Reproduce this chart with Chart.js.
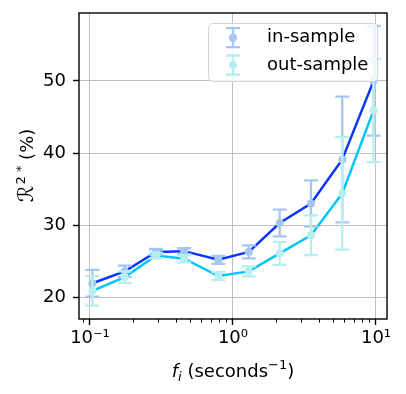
<!DOCTYPE html>
<html>
<head>
<meta charset="utf-8">
<script src="https://cdn.jsdelivr.net/npm/chart.js@4/dist/chart.umd.min.js"></script>
<style>
  html, body { margin: 0; background: #fff; }
</style>
</head>
<body>
<canvas id="chart" width="406" height="394"></canvas>
<script>
// ====== DATA ======
const freqs = [0.104, 0.175, 0.29, 0.456, 0.79, 1.29, 2.12, 3.51, 5.81, 9.62];
const inSample = [21.95, 23.6, 26.3, 26.4, 25.2, 26.3, 30.3, 33.0, 39.1, 50.0];
const inSampleErr = [1.85, 0.8, 0.4, 0.4, 0.55, 0.9, 1.85, 3.2, 8.7, 7.6];
const outSample = [20.9, 22.8, 25.8, 25.35, 22.95, 23.6, 26.1, 28.6, 34.4, 45.9];
const outSampleErr = [2.05, 0.8, 0.4, 0.5, 0.55, 0.7, 1.6, 2.75, 7.8, 7.15];
const seriesNames = ["in-sample", "out-sample"];
const xTickVals = [0.1, 1, 10];
const xTickLabels = ["10\u207B\u00B9", "10\u2070", "10\u00B9"];
const yTickVals = [20, 30, 40, 50];

const FONT = "'DejaVu Sans', sans-serif";
const colIn = "#0a36ff";
const colInLight = "#a6c6f2";
const colOut = "#00c6f8";
const colOutLight = "#b6efee";

const toPoints = (ys) => freqs.map((f, i) => ({ x: f, y: ys[i] }));

// error bars drawn just below the marker dataset they belong to
const errorBars = {
  id: "errorBars",
  beforeDatasetDraw(chart, args) {
    const ds = chart.data.datasets[args.index];
    if (!ds.errors) return;
    const { ctx, chartArea: a, scales } = chart;
    ctx.save();
    ctx.beginPath();
    ctx.rect(a.left, a.top, a.width, a.height);
    ctx.clip();
    ctx.strokeStyle = ds.pointBackgroundColor;
    ctx.lineWidth = 2.3;
    ds.data.forEach((p, i) => {
      const px = scales.x.getPixelForValue(p.x);
      const top = scales.y.getPixelForValue(p.y + ds.errors[i]);
      const bot = scales.y.getPixelForValue(p.y - ds.errors[i]);
      ctx.beginPath();
      ctx.moveTo(px, top); ctx.lineTo(px, bot);
      ctx.moveTo(px - 7, top); ctx.lineTo(px + 7, top);
      ctx.moveTo(px - 7, bot); ctx.lineTo(px + 7, bot);
      ctx.stroke();
    });
    ctx.restore();
  },
};

// frame, minor ticks, axis titles, legend
const decorations = {
  id: "decorations",
  afterDraw(chart) {
    const { ctx, chartArea: a, scales } = chart;
    ctx.save();
    // minor ticks on log axis
    ctx.strokeStyle = "#000";
    ctx.lineWidth = 1;
    for (let d = -2; d <= 1; d++) {
      for (let k = 2; k <= 9; k++) {
        const v = k * Math.pow(10, d);
        if (v < scales.x.min || v > scales.x.max) continue;
        const px = Math.round(scales.x.getPixelForValue(v)) + 0.5;
        ctx.beginPath();
        ctx.moveTo(px, a.bottom);
        ctx.lineTo(px, a.bottom + 3.5);
        ctx.stroke();
      }
    }
    // frame
    ctx.lineWidth = 1.4;
    ctx.strokeRect(a.left, a.top, a.right - a.left, a.bottom - a.top);

    // y title: R^{2*} (%)
    ctx.fillStyle = "#000";
    ctx.textBaseline = "alphabetic";
    ctx.translate(33, (a.top + a.bottom) / 2);
    ctx.rotate(-Math.PI / 2);
    const big = "18px " + FONT, small = "13px " + FONT, cal = "21px " + FONT;
    ctx.font = cal;
    const wR = ctx.measureText("\u211B").width;
    ctx.font = big;
    const wP = ctx.measureText(" (%)").width;
    ctx.font = small;
    const wS = ctx.measureText("2 *").width;
    let x0 = -(wR + wS + wP) / 2;
    ctx.font = cal;
    ctx.fillText("\u211B", x0, 0);
    ctx.font = small;
    ctx.fillText("2 *", x0 + wR + 1, -8);
    ctx.font = big;
    ctx.fillText(" (%)", x0 + wR + wS + 1, 0);
    ctx.setTransform(1, 0, 0, 1, 0, 0);

    // x title: f_i (seconds^{-1})
    const it = "italic 18px " + FONT, itSmall = "italic 13px " + FONT;
    ctx.font = it; const wf = ctx.measureText("f").width;
    ctx.font = itSmall; const wi = ctx.measureText("i").width;
    ctx.font = big; const ws = ctx.measureText(" (seconds").width;
    ctx.font = small; const wm = ctx.measureText("\u22121").width;
    ctx.font = big; const wc = ctx.measureText(")").width;
    let xx = (a.left + a.right) / 2 - (wf + wi + ws + wm + wc) / 2;
    const by = 377;
    ctx.font = it; ctx.fillText("f", xx, by); xx += wf;
    ctx.font = itSmall; ctx.fillText("i", xx, by + 4); xx += wi;
    ctx.font = big; ctx.fillText(" (seconds", xx, by); xx += ws;
    ctx.font = small; ctx.fillText("\u22121", xx, by - 8); xx += wm;
    ctx.font = big; ctx.fillText(")", xx, by);

    // legend
    const lx = 208, ly = 23, lw = 169, lh = 58;
    ctx.beginPath();
    ctx.roundRect(lx + 0.5, ly + 0.5, lw, lh, 4);
    ctx.fillStyle = "rgba(255,255,255,0.8)";
    ctx.fill();
    ctx.strokeStyle = "#d4d4d4";
    ctx.lineWidth = 1;
    ctx.stroke();
    const rows = [
      { name: seriesNames[0], color: colInLight, y: 37.7 },
      { name: seriesNames[1], color: colOutLight, y: 65 },
    ];
    rows.forEach((r) => {
      const hx = 233;
      ctx.strokeStyle = r.color;
      ctx.lineWidth = 2.3;
      ctx.beginPath();
      ctx.moveTo(hx, r.y - 9.5); ctx.lineTo(hx, r.y + 9.5);
      ctx.moveTo(hx - 7, r.y - 9.5); ctx.lineTo(hx + 7, r.y - 9.5);
      ctx.moveTo(hx - 7, r.y + 9.5); ctx.lineTo(hx + 7, r.y + 9.5);
      ctx.stroke();
      ctx.fillStyle = r.color;
      ctx.beginPath();
      ctx.arc(hx, r.y, 4, 0, Math.PI * 2);
      ctx.fill();
      ctx.fillStyle = "#000";
      ctx.font = big;
      ctx.textBaseline = "middle";
      ctx.fillText(r.name, 267, r.y);
    });
    ctx.restore();
  },
};

new Chart(document.getElementById("chart"), {
  type: "line",
  data: {
    datasets: [
      {
        label: seriesNames[0],
        data: toPoints(inSample),
        errors: inSampleErr,
        showLine: false,
        pointRadius: 4,
        pointBorderWidth: 0,
        pointBackgroundColor: colInLight,
        order: 2,
      },
      {
        label: seriesNames[1],
        data: toPoints(outSample),
        errors: outSampleErr,
        showLine: false,
        pointRadius: 4,
        pointBorderWidth: 0,
        pointBackgroundColor: colOutLight,
        order: 1,
      },
      {
        data: toPoints(inSample),
        borderColor: colIn,
        borderWidth: 2.5,
        pointRadius: 0,
        order: 4,
      },
      {
        data: toPoints(outSample),
        borderColor: colOut,
        borderWidth: 2.5,
        pointRadius: 0,
        order: 3,
      },
    ],
  },
  options: {
    responsive: false,
    animation: false,
    devicePixelRatio: 1,
    layout: { padding: { top: 13, right: 19, left: 0, bottom: 0 } },
    plugins: { legend: { display: false }, tooltip: { enabled: false } },
    scales: {
      x: {
        type: "logarithmic",
        min: 0.0838,
        max: 11.94,
        afterBuildTicks: (s) => { s.ticks = xTickVals.map((v) => ({ value: v, major: true })); },
        afterFit: (s) => { s.height = 75; s.paddingLeft = 0; s.paddingRight = 0; },
        border: { display: false },
        grid: { color: "#bfbfbf", lineWidth: 1, tickColor: "#000", tickLength: 6, tickWidth: 1.4 },
        ticks: {
          color: "#000",
          font: { family: FONT, size: 18 },
          padding: 3,
          maxRotation: 0,
          autoSkip: false,
          callback: (v, i) => xTickLabels[i],
        },
      },
      y: {
        min: 17,
        max: 59.4,
        afterBuildTicks: (s) => { s.ticks = yTickVals.map((v) => ({ value: v })); },
        afterFit: (s) => { s.width = 79; s.paddingTop = 0; s.paddingBottom = 0; },
        border: { display: false },
        grid: { color: "#bfbfbf", lineWidth: 1, tickColor: "#000", tickLength: 6, tickWidth: 1.4 },
        ticks: {
          color: "#000",
          font: { family: FONT, size: 18 },
          padding: 7,
          callback: (v) => String(v),
        },
      },
    },
  },
  plugins: [errorBars, decorations],
});
</script>
</body>
</html>
